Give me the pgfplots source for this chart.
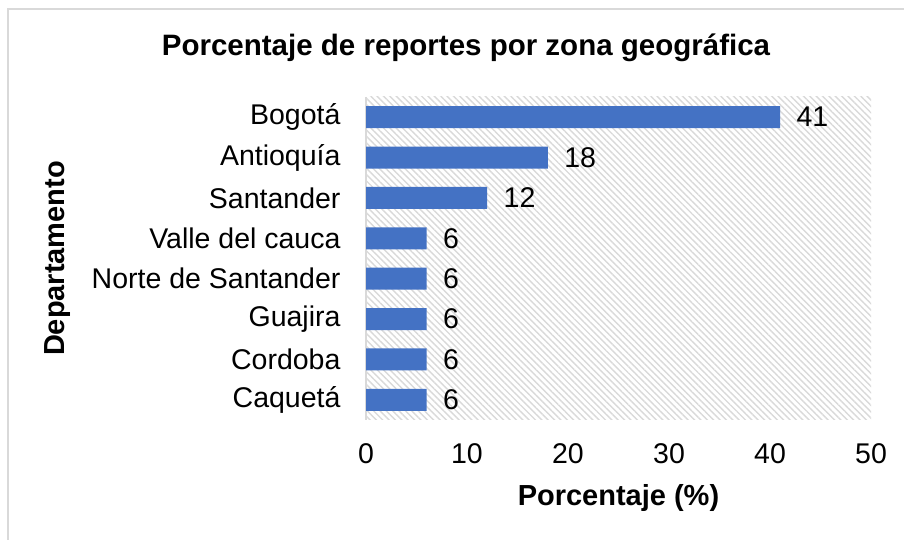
\documentclass[border=0pt]{standalone}
\usepackage{fontspec}
\setmainfont{Liberation Sans}
\usepackage{pgfplots}
\pgfplotsset{compat=1.18}
\usetikzlibrary{patterns.meta}
\definecolor{barblue}{HTML}{4472C4}
\definecolor{hatch}{HTML}{D9D9D9}
\definecolor{frame}{HTML}{D9D9D9}
\begin{document}
\begin{tikzpicture}
\useasboundingbox (0,0) rectangle (904pt,540pt);
\draw[frame, line width=2pt] (8pt,0) -- (8pt,531pt) -- (904pt,531pt);
\node[font=\fontsize{29.5}{34}\selectfont\bfseries] at (466pt,492pt) {Porcentaje de reportes por zona geográfica};
\begin{axis}[
  at={(366pt,120pt)}, anchor=south west,
  scale only axis, width=505pt, height=323pt,
  xbar, bar width=22pt,
  xmin=0, xmax=50, ymin=-0.5, ymax=7.5,
  xtick={0,10,20,30,40,50},
  ytick={0,1,2,3,4,5,6,7},
  yticklabels={Caquetá,Cordoba,Guajira,Norte de Santander,Valle del cauca,Santander,Antioquía,Bogotá},
  /pgf/number format/assume math mode=true,
  ticklabel style={font=\fontsize{28.5}{33}\selectfont},
  yticklabel style={xshift=-22pt},
  xticklabel style={yshift=-20pt},
  major tick length=0pt,
  axis x line*=bottom, axis y line*=left,
  x axis line style={draw=none},
  y axis line style={draw=frame, line width=1.2pt, -},
  axis background/.style={pattern={Lines[angle=-45,distance=4.5pt,line width=1.4pt]}, pattern color=hatch},
  xlabel={\textbf{Porcentaje (\%)}},
  ylabel={\textbf{Departamento}},
  label style={font=\fontsize{29}{34}\selectfont},
  xlabel style={yshift=-14pt},
  ylabel style={yshift=14pt},
  nodes near coords,
  nodes near coords style={font=\fontsize{28.5}{33}\selectfont, anchor=west, xshift=13pt, black},
  point meta=explicit symbolic,
]
\addplot[fill=barblue, draw=none] coordinates {
 (6,0) [6] (6,1) [6] (6,2) [6] (6,3) [6] (6,4) [6] (12,5) [12] (18,6) [18] (41,7) [41]
};
\end{axis}
\end{tikzpicture}
\end{document}
